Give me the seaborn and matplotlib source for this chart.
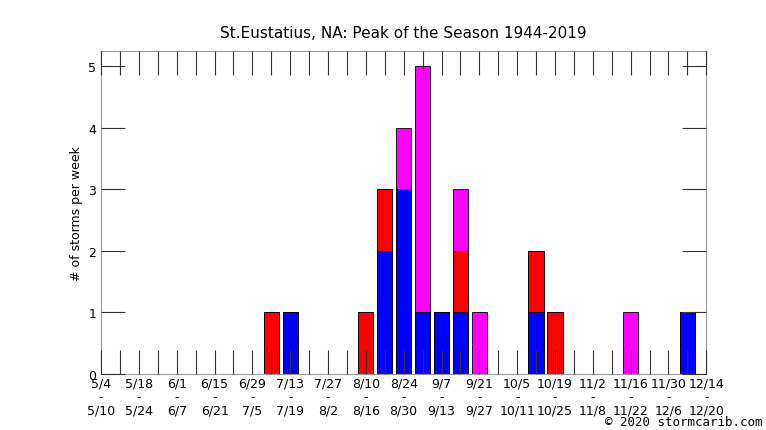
import numpy as np
import pandas as pd
import matplotlib
matplotlib.use('Agg')
from matplotlib import pyplot as plt
import seaborn as sns

week_starts = ['5/4','5/11','5/18','5/25','6/1','6/8','6/15','6/22','6/29','7/6','7/13','7/20','7/27',
               '8/3','8/10','8/17','8/24','8/31','9/7','9/14','9/21','9/28','10/5','10/12','10/19',
               '10/26','11/2','11/9','11/16','11/23','11/30','12/7','12/14']
week_ends = ['5/10','5/17','5/24','5/31','6/7','6/14','6/21','6/28','7/5','7/12','7/19','7/26','8/2',
             '8/9','8/16','8/23','8/30','9/6','9/13','9/20','9/27','10/4','10/11','10/18','10/25',
             '11/1','11/8','11/15','11/22','11/29','12/6','12/13','12/20']
blue    = [0,0,0,0,0,0,0,0,0,0,1,0,0,0,0,2,3,1,1,1,0,0,0,1,0,0,0,0,0,0,0,1,0]
red     = [0,0,0,0,0,0,0,0,0,1,0,0,0,0,1,1,0,0,0,1,0,0,0,1,1,0,0,0,0,0,0,0,0]
magenta = [0,0,0,0,0,0,0,0,0,0,0,0,0,0,0,0,1,4,0,1,1,0,0,0,0,0,0,0,1,0,0,0,0]

df = pd.DataFrame({'week': np.arange(len(week_starts)), 'blue': blue, 'red': red, 'magenta': magenta})
df['br'] = df['blue'] + df['red']
df['total'] = df['br'] + df['magenta']

sns.set_style('white')
plt.rcParams['font.family'] = ['DejaVu Sans']
plt.rcParams['text.color'] = 'black'
plt.rcParams['xtick.labelcolor'] = 'black'
plt.rcParams['ytick.labelcolor'] = 'black'
fig = plt.figure(figsize=(7.66, 4.31), dpi=100)
ax = fig.add_axes([0.132, 0.130, 0.790, 0.749])

for col, c in [('total', '#ff00ff'), ('br', '#ff0000'), ('blue', '#0000ff')]:
    d = df[df[col] > 0]
    sns.barplot(data=d, x='week', y=col, native_scale=True, color=c, saturation=1,
                width=0.8, edgecolor='black', linewidth=0.6, ax=ax)

ax.set_xlim(0, 32)
ax.set_ylim(0, 5.24)
ax.set_xticks(df['week'])
ax.set_xticklabels([f'{s}\n-\n{e}' if i % 2 == 0 else '' for i, (s, e) in enumerate(zip(week_starts, week_ends))],
                   fontsize=9, linespacing=1.05)
ax.set_yticks(range(6))
ax.tick_params(axis='x', direction='in', length=17, width=0.8, color='#333333', top=True, bottom=True, pad=2)
ax.tick_params(axis='y', direction='in', length=17, width=0.8, color='#333333', left=True, right=True, labelsize=9)
for s in ax.spines.values():
    s.set_color('#999999')
ax.set_axisbelow(False)
ax.set_xlabel('')
ax.set_ylabel('# of storms per week', fontsize=9, color='black')
ax.set_title('St.Eustatius, NA: Peak of the Season 1944-2019', fontsize=11, pad=10, color='black')
fig.text(0.995, 0.004, '© 2020 stormcarib.com', ha='right', va='bottom', fontsize=9, family='monospace')
fig.savefig('out.png', dpi=100)
